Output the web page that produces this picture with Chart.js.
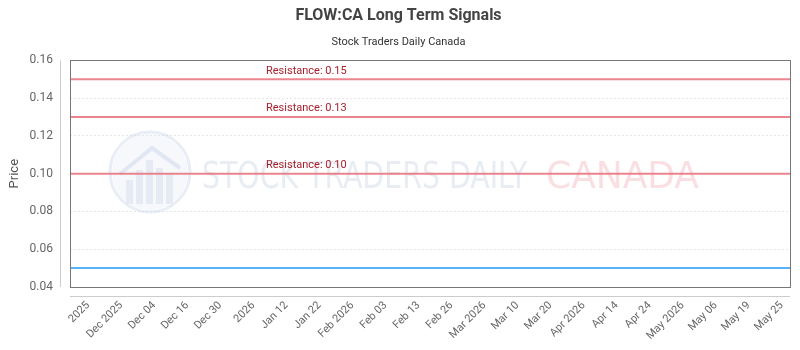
<!DOCTYPE html>
<html>
<head>
<meta charset="utf-8">
<script src="https://cdn.jsdelivr.net/npm/chart.js@4"></script>
<style>
html,body{margin:0;padding:0;background:#fff;}
#wrap{width:800px;height:350px;}
</style>
</head>
<body>
<div id="wrap"><canvas id="c" width="800" height="350"></canvas></div>
<script>
const xLabels = ["2025","Dec 2025","Dec 04","Dec 16","Dec 30","2026","Jan 12","Jan 22","Feb 2026","Feb 03","Feb 13","Feb 26","Mar 2026","Mar 10","Mar 20","Apr 2026","Apr 14","Apr 24","May 2026","May 06","May 19","May 25"];
const priceX = [-0.55, 21.25];
const priceY = [0.05, 0.05];
const resistanceLevels = [0.15, 0.13, 0.10];
const resistanceLabels = ["Resistance: 0.15","Resistance: 0.13","Resistance: 0.10"];
const yTicks = [0.04,0.06,0.08,0.10,0.12,0.14,0.16];

const FONT = "Roboto, 'Open Sans', sans-serif";

const resistanceDatasets = resistanceLevels.map((v,i)=>({
  label: resistanceLabels[i],
  data: priceX.map(x=>({x:x,y:v})),
  borderColor: 'rgba(233,120,130,0.9)',
  borderWidth: 2,
  pointRadius: 0,
  fill: false,
  order: 2
}));

function condensedText(ctx, text, x, y, w){
  const m = ctx.measureText(text).width;
  ctx.save();
  ctx.translate(x, y);
  ctx.scale(w/m, 1);
  ctx.fillText(text, 0, 0);
  ctx.restore();
}

const framePlugin = {
  id:'frame',
  beforeDatasetsDraw(chart){
    const {ctx, chartArea:a} = chart;
    ctx.save();
    const cx = a.left + 80, cy = 172;
    ctx.strokeStyle = 'rgba(205,215,235,0.45)';
    ctx.lineWidth = 3;
    ctx.beginPath(); ctx.arc(cx, cy, 40, 0, Math.PI*2); ctx.stroke();
    ctx.fillStyle = 'rgba(225,232,245,0.3)';
    ctx.beginPath(); ctx.arc(cx, cy, 38, 0, Math.PI*2); ctx.fill();
    // logo bars + roof
    ctx.fillStyle = 'rgba(200,210,230,0.35)';
    const bars = [[-24,8],[-14,-2],[-4,-12],[6,-4],[16,2]];
    bars.forEach(b=>{ ctx.fillRect(cx + b[0], cy + b[1], 7, 32 - b[1]); });
    ctx.strokeStyle = 'rgba(200,210,230,0.45)';
    ctx.lineWidth = 4;
    ctx.beginPath();
    ctx.moveTo(cx-30, cy+2); ctx.lineTo(cx+2, cy-24); ctx.lineTo(cx+30, cy-4);
    ctx.stroke();
    ctx.font = "38px 'DejaVu Sans Condensed', 'Liberation Sans Narrow', sans-serif";
    ctx.textBaseline = 'alphabetic';
    ctx.textAlign = 'left';
    ctx.fillStyle = 'rgba(190,200,222,0.35)';
    condensedText(ctx, 'STOCK TRADERS DAILY', a.left + 132, cy + 16, 325);
    ctx.fillStyle = 'rgba(240,150,160,0.3)';
    condensedText(ctx, 'CANADA', a.left + 476, cy + 16, 153);
    ctx.restore();
  },
  afterDatasetsDraw(chart){
    const {ctx, chartArea:a, scales} = chart;
    ctx.save();
    ctx.font = "11px " + FONT;
    ctx.fillStyle = '#a8202c';
    ctx.textAlign = 'left';
    ctx.textBaseline = 'bottom';
    resistanceLevels.forEach((v,i)=>{
      const y = scales.y.getPixelForValue(v);
      ctx.fillText(resistanceLabels[i], a.left + 196, y - 3);
    });
    ctx.strokeStyle = '#777';
    ctx.lineWidth = 1;
    ctx.strokeRect(Math.round(a.left)+0.5, Math.round(a.top)+0.5, Math.round(a.right-a.left), Math.round(a.bottom-a.top));
    ctx.strokeStyle = '#ccc';
    ctx.beginPath();
    ctx.moveTo(Math.round(a.left)-9.5, a.top);
    ctx.lineTo(Math.round(a.left)-9.5, a.bottom);
    ctx.stroke();
    ctx.beginPath();
    ctx.moveTo(a.left, Math.round(a.bottom)+9.5);
    ctx.lineTo(a.right, Math.round(a.bottom)+9.5);
    ctx.stroke();
    ctx.restore();
  }
};

new Chart(document.getElementById('c'), {
  type: 'line',
  data: {
    datasets: [
      {
        label: 'Price',
        data: priceX.map((x,i)=>({x:x,y:priceY[i]})),
        borderColor: 'rgb(88,178,250)',
        borderWidth: 2,
        pointRadius: 0,
        fill: false,
        order: 1
      },
      ...resistanceDatasets
    ]
  },
  plugins: [framePlugin],
  options: {
    responsive: false,
    animation: false,
    layout: { padding: { left: 7, right: 10, top: 0, bottom: 0 } },
    plugins: {
      legend: { display: false },
      tooltip: { enabled: false },
      title: {
        display: true,
        text: 'FLOW:CA Long Term Signals',
        color: '#444',
        font: { family: FONT, size: 16, weight: 'bold' },
        padding: { top: 6, bottom: 8 }
      },
      subtitle: {
        display: true,
        text: 'Stock Traders Daily Canada',
        color: '#333',
        font: { family: FONT, size: 11 },
        padding: { top: 2, bottom: 12 }
      }
    },
    scales: {
      x: {
        type: 'linear',
        min: priceX[0],
        max: priceX[priceX.length-1],
        afterBuildTicks(scale){
          scale.ticks = xLabels.map((_,i)=>({value:i}));
        },
        afterFit(scale){
          scale.paddingLeft = 0;
          scale.paddingRight = 0;
          scale.height = 63;
        },
        ticks: {
          autoSkip: false,
          minRotation: 45,
          maxRotation: 45,
          padding: 12,
          color: '#666',
          font: { family: FONT, size: 11 },
          callback: (v)=> xLabels[v] !== undefined ? xLabels[v] : ''
        },
        grid: { display: false, drawTicks: false },
        border: { display: false }
      },
      y: {
        min: 0.04,
        max: 0.16,
        afterBuildTicks(scale){
          scale.ticks = yTicks.map(v=>({value:v}));
        },
        afterFit(scale){
          scale.width = 63;
        },
        title: {
          display: true,
          text: 'Price',
          color: '#555',
          font: { family: FONT, size: 13 },
          padding: { top: 0, bottom: 6 }
        },
        ticks: {
          padding: 17,
          color: '#666',
          font: { family: FONT, size: 12 },
          callback: (v)=> v.toFixed(2)
        },
        grid: {
          color: '#e6e6e6',
          drawTicks: false,
          tickLength: 0
        },
        border: { display: false, dash: [2,2] }
      }
    }
  }
});
</script>
</body>
</html>
